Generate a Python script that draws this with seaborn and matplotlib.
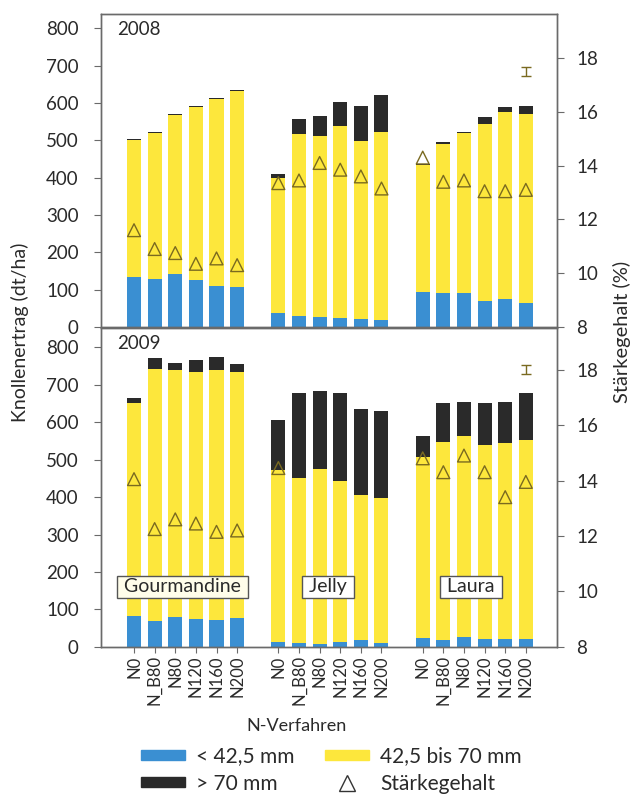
import matplotlib
matplotlib.use("Agg")
import matplotlib.pyplot as plt
import matplotlib.patches as mpatches
from matplotlib.lines import Line2D
import seaborn as sns
import numpy as np
import pandas as pd

# data (dt/ha per size fraction, starch %)
varieties = ["Gourmandine", "Jelly", "Laura"]
treatments = ["N0", "N_B80", "N80", "N120", "N160", "N200"]
positions = [0, 1, 2, 3, 4, 5, 7, 8, 9, 10, 11, 12, 14, 15, 16, 17, 18, 19]

blue_2008 = [135, 129, 141, 127, 110, 108, 37, 30, 28, 25, 22, 20, 95, 92, 90, 70, 74, 63]
yellow_2008 = [365, 391, 427, 461, 500, 524, 361, 486, 482, 512, 476, 501, 340, 399, 430, 474, 501, 507]
black_2008 = [3, 3, 3, 3, 3, 3, 12, 41, 55, 66, 94, 101, 2, 3, 3, 17, 14, 22]
starch_2008 = [11.6, 10.9, 10.75, 10.35, 10.55, 10.3,
               13.35, 13.45, 14.1, 13.85, 13.6, 13.15,
               14.3, 13.4, 13.45, 13.05, 13.05, 13.1]

blue_2009 = [83, 68, 81, 74, 72, 78, 14, 10, 8, 12, 19, 10, 23, 19, 26, 21, 21, 21]
yellow_2009 = [567, 673, 658, 660, 667, 656, 458, 442, 468, 431, 386, 387, 485, 529, 536, 518, 523, 531]
black_2009 = [15, 29, 19, 31, 34, 20, 133, 226, 208, 235, 229, 233, 56, 102, 92, 113, 110, 126]
starch_2009 = [14.05, 12.25, 12.6, 12.45, 12.15, 12.2,
               14.45, np.nan, np.nan, np.nan, np.nan, np.nan,
               14.8, 14.3, 14.9, 14.3, 13.4, 13.95]

err_x = [19]
err_2008 = [17.5]
err_2009 = [18.0]
err_half = [0.17]

c_blue = "#3a8fd2"
c_yellow = "#fde73c"
c_black = "#2a2a2a"
c_tri = "#7a6a20"
c_axis = "#6a6a6a"
c_text = "#2a2a2a"

sns.set_style("white")
plt.rcParams['font.family'] = ['Lato', 'DejaVu Sans']
plt.rcParams['text.color'] = c_text
plt.rcParams['xtick.color'] = c_axis
plt.rcParams['ytick.color'] = c_axis
plt.rcParams['xtick.labelcolor'] = c_text
plt.rcParams['ytick.labelcolor'] = c_text

fs = 13.5


def plot_year(ax, blue, yellow, black, starch, err_y, year, ylim_left, ylim_right):
    df = pd.DataFrame({"pos": positions, "blue": blue, "yellow": yellow, "black": black})
    df["mid"] = df["blue"] + df["yellow"]
    df["total"] = df["mid"] + df["black"]
    # overlay: total (black) -> blue+yellow -> blue
    for col, c in [("total", c_black), ("mid", c_yellow), ("blue", c_blue)]:
        sns.barplot(data=df, x="pos", y=col, native_scale=True, width=0.68,
                    color=c, saturation=1, errorbar=None, linewidth=0, ax=ax)
    ax.set_xlim(-1.6, 20.5)
    ax.set_ylim(*ylim_left)
    ax.set_yticks(np.arange(0, 801, 100))
    ax.set_xlabel(None)
    ax.set_ylabel(None)
    ax.tick_params(axis='y', direction='out', length=5, width=0.8, labelsize=fs,
                   left=True, pad=11)
    for s in ax.spines.values():
        s.set_color(c_axis)
        s.set_linewidth(1)

    ax2 = ax.twinx()
    sns.scatterplot(x=positions, y=starch, marker="^", s=85, facecolor="none",
                    edgecolor=c_tri, linewidth=1.0, ax=ax2, zorder=5)
    ax2.errorbar(err_x, err_y, yerr=err_half, fmt="none", ecolor=c_tri,
                 elinewidth=1, capsize=3.5, capthick=1)
    ax2.set_ylim(*ylim_right)
    ax2.set_yticks(np.arange(8, 19, 2))
    ax2.tick_params(axis='y', direction='out', length=5, width=0.8, labelsize=fs,
                    right=True, pad=9)
    for s in ax2.spines.values():
        s.set_color(c_axis)
        s.set_linewidth(1)
    ax2.set_xlim(-1.6, 20.5)
    ax.text(-0.8, ylim_left[1] - 42, year, fontsize=13.5, va="center", ha="left")
    return ax2


fig = plt.figure(figsize=(6.41, 7.95), dpi=100)
ax_top = fig.add_axes([0.1576, 0.5887, 0.711, 0.3937])
ax_bot = fig.add_axes([0.1576, 0.1862, 0.711, 0.4013])

plot_year(ax_top, blue_2008, yellow_2008, black_2008, starch_2008, err_2008,
          "2008", (0, 838), (8, 19.64))
plot_year(ax_bot, blue_2009, yellow_2009, black_2009, starch_2009, err_2009,
          "2009", (0, 851), (8, 19.5))

ax_top.set_xticks([])
ax_bot.set_xticks(positions)
ax_bot.set_xticklabels(treatments * 3, rotation=90, fontsize=12)
ax_bot.tick_params(axis='x', direction='out', length=4, width=0.8, bottom=True, pad=2)

# variety boxes
box_x = [2.35, 9.4, 16.35]
for vx, name, fc in zip(box_x, varieties, ["#fffdea", "white", "white"]):
    ax_bot.text(vx, 160, " " + name + " ", fontsize=14, ha="center", va="center",
                zorder=10,
                bbox=dict(boxstyle="square,pad=0.12", fc=fc, ec="#555555", lw=1))

fig.text(20 / 641, 1 - 332 / 795, "Knollenertrag (dt/ha)", rotation=90,
         ha="center", va="center", fontsize=14)
fig.text(622 / 641, 1 - 332 / 795, "Stärkegehalt (%)", rotation=90,
         ha="center", va="center", fontsize=14.5)
fig.text(296 / 641, 1 - 726 / 795, "N-Verfahren", ha="center", va="center", fontsize=13)

handles = [mpatches.Patch(color=c_blue), mpatches.Patch(color=c_black),
           mpatches.Patch(color=c_yellow),
           Line2D([], [], marker="^", ls="none", markersize=11, mfc="white",
                  mec="#333333", mew=1)]
labels = ["< 42,5 mm", "> 70 mm", "42,5 bis 70 mm", "Stärkegehalt"]
fig.legend(handles, labels, ncol=2, frameon=False, loc="center left",
           bbox_to_anchor=(141 / 641, 1 - 770 / 795), fontsize=15,
           handlelength=2.1, handleheight=0.4, handletextpad=0.55,
           labelspacing=0.35, columnspacing=1.45, borderpad=0, borderaxespad=0)

fig.savefig("out.png", dpi=100)
